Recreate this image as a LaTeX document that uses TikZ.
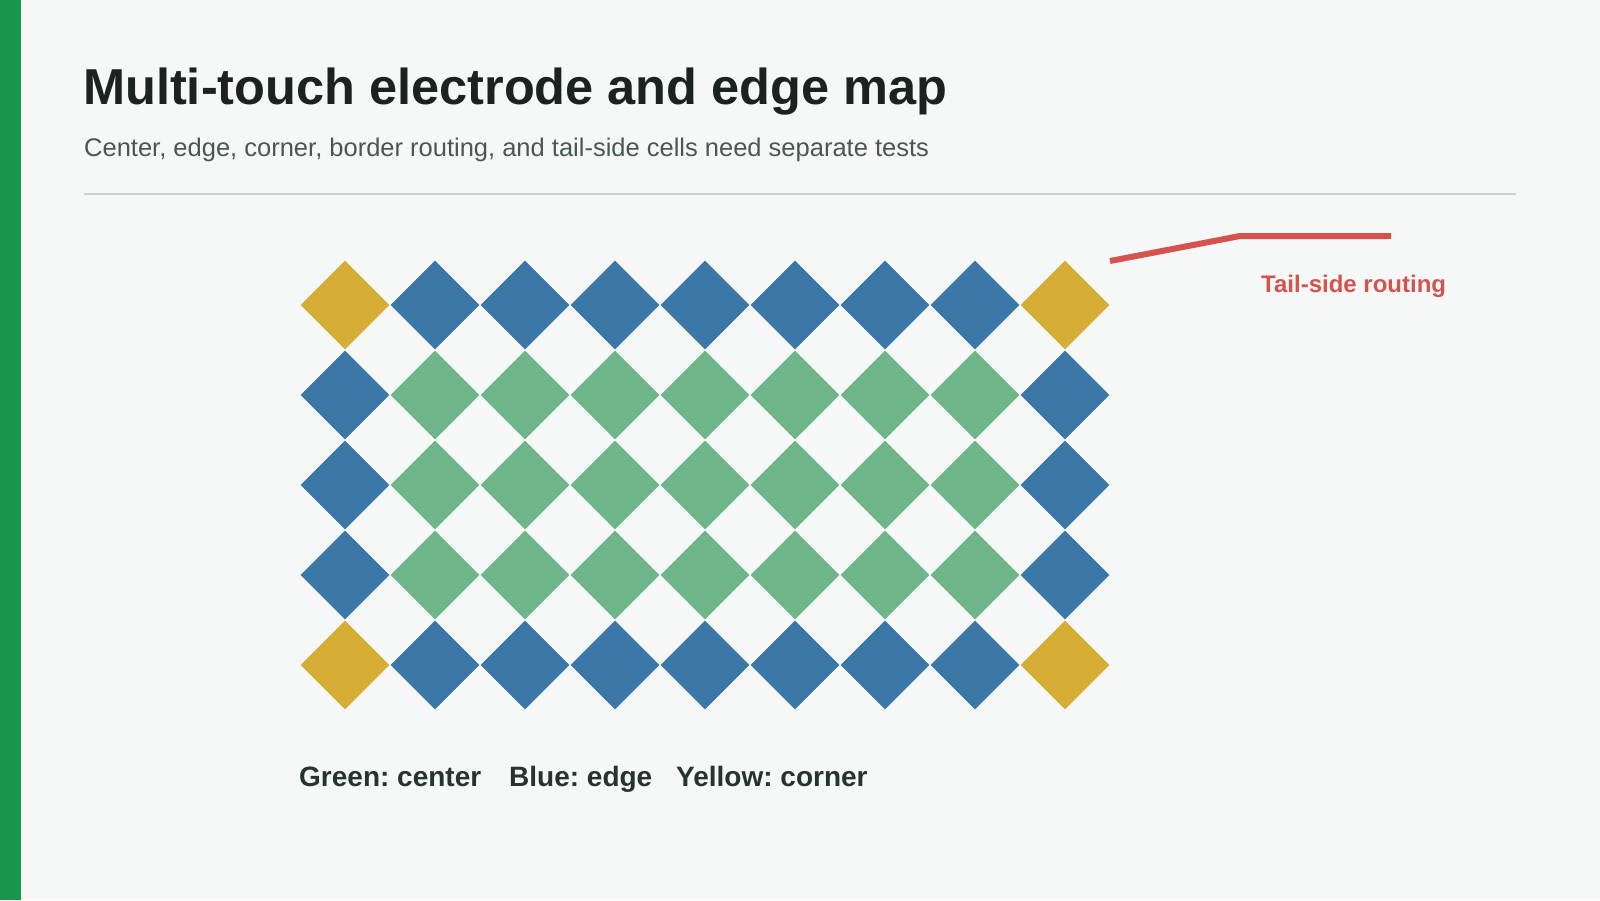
\documentclass[tikz,border=0pt]{standalone}
\usepackage{fontspec}
\setmainfont{Liberation Sans}
\usetikzlibrary{shapes.geometric, positioning}

\definecolor{pagebg}{HTML}{F6F8F7}
\definecolor{barGreen}{HTML}{19964C}
\definecolor{titleInk}{HTML}{1B2220}
\definecolor{subInk}{HTML}{4B5654}
\definecolor{ruleGray}{HTML}{CDD0CF}
\definecolor{cellGreen}{HTML}{6FB58A}
\definecolor{cellBlue}{HTML}{3B78A8}
\definecolor{cellYellow}{HTML}{D6AE36}
\definecolor{tailRed}{HTML}{D6524E}
\definecolor{keyInk}{HTML}{283230}

\tikzset{
  cell/.style={diamond, shape aspect=1, inner sep=0pt, minimum width=89pt, minimum height=89pt},
  greencell/.style={cell, fill=cellGreen},
  bluecell/.style={cell, fill=cellBlue},
  yellowcell/.style={cell, fill=cellYellow},
  keytext/.style={anchor=base west, text=keyInk, font=\fontsize{28}{32}\selectfont\bfseries\frenchspacing},
}

\begin{document}
\begin{tikzpicture}[x=1pt, y=-1pt]
    \useasboundingbox (0,0) rectangle (1600,900);
    \fill[pagebg] (0,0) rectangle (1600,900);
    \fill[barGreen] (0,0) rectangle (21,900);

    \node[anchor=base west, inner sep=0pt, text=titleInk, font=\fontsize{50.5}{56}\selectfont\bfseries] (title) at (83,104) {Multi-touch electrode and edge map};
    \node[anchor=base west, inner sep=0pt, text=subInk, font=\fontsize{25.5}{29}\selectfont\frenchspacing] (subtitle) at (84,156) {Center, edge, corner, border routing, and tail-side cells need separate tests};
    \coordinate (ruleL) at (84,194);
    \coordinate (ruleR) at (1516,194);
    \draw[ruleGray, line width=2.5pt] (ruleL) -- (ruleR);

    % electrode cells
    \foreach \i in {1,...,7}
      \foreach \j in {1,2,3}
        \node[greencell] (c-\i-\j) at (345+90*\i, 305+90*\j) {};
    \foreach \i in {1,...,7}
      \foreach \j in {0,4}
        \node[bluecell] (c-\i-\j) at (345+90*\i, 305+90*\j) {};
    \foreach \i in {0,8}
      \foreach \j in {1,2,3}
        \node[bluecell] (c-\i-\j) at (345+90*\i, 305+90*\j) {};
    \foreach \i in {0,8}
      \foreach \j in {0,4}
        \node[yellowcell] (c-\i-\j) at (345+90*\i, 305+90*\j) {};

    % tail routing
    \coordinate (tailA) at (1110,261);
    \coordinate (tailB) at (1240,236);
    \coordinate (tailC) at (1391,236);
    \draw[tailRed, line width=6pt] (tailA) -- (tailB) -- (tailC);
    \node[anchor=base west, inner sep=0pt, text=tailRed, font=\fontsize{24}{28}\selectfont\bfseries] (tail) at (1261,292) {Tail-side routing};

    % key
    \node[keytext, inner sep=0pt] (keyG) at (299,786) {Green: center};
    \node[keytext, inner sep=0pt] (keyB) at (509,786) {Blue: edge};
    \node[keytext, inner sep=0pt] (keyY) at (676,786) {Yellow: corner};
\end{tikzpicture}
\end{document}
